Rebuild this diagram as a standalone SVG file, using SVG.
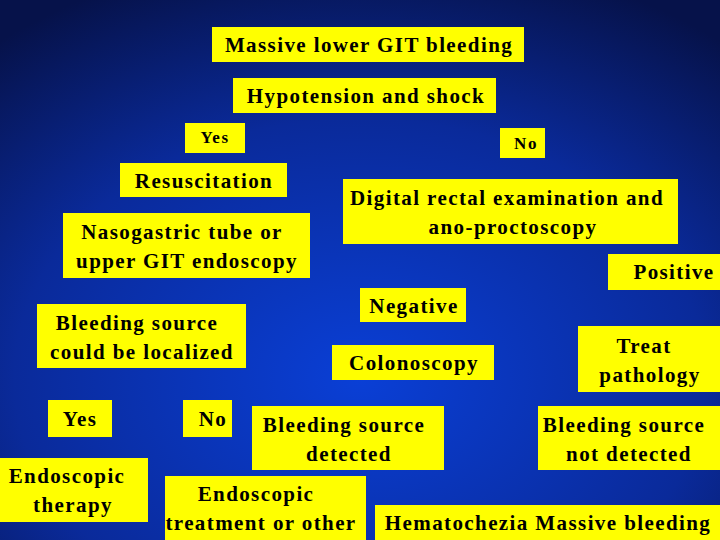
<svg xmlns="http://www.w3.org/2000/svg" width="720" height="540" viewBox="0 0 720 540">
<defs>
<radialGradient id="bg" cx="0.5" cy="0.7" r="0.8">
<stop offset="0" stop-color="#0a3fd6"/>
<stop offset="0.6" stop-color="#0a2a9a"/>
<stop offset="1" stop-color="#06124a"/>
</radialGradient>
</defs>
<style>
rect.b{fill:#ffff00}
text{font-family:"Liberation Serif",serif;font-size:21px;font-weight:bold;letter-spacing:1.4px;fill:#000;text-anchor:middle}
text.s{font-size:17px;letter-spacing:1.5px}
</style>
<rect width="720" height="540" fill="url(#bg)"/>
<g id="n1"><rect class="b" x="212" y="27" width="312" height="35"/><text x="369" y="52">Massive lower GIT bleeding</text></g>
<g id="n2"><rect class="b" x="233" y="78" width="263" height="35"/><text x="366" y="103">Hypotension and shock</text></g>
<g id="n3"><rect class="b" x="185" y="123" width="60" height="30"/><text class="s" x="215" y="143">Yes</text></g>
<g id="n4"><rect class="b" x="500" y="128" width="45" height="30"/><text class="s" x="526" y="149">No</text></g>
<g id="n5"><rect class="b" x="120" y="163" width="167" height="34"/><text x="204" y="188">Resuscitation</text></g>
<g id="n6"><rect class="b" x="343" y="179" width="335" height="65"/><text x="507" y="205">Digital rectal examination and</text><text x="513" y="234">ano-proctoscopy</text></g>
<g id="n7"><rect class="b" x="63" y="213" width="247" height="65"/><text x="182" y="239">Nasogastric tube or</text><text x="187" y="268">upper GIT endoscopy</text></g>
<g id="n8"><rect class="b" x="608" y="254" width="112" height="36"/><text x="674" y="279">Positive</text></g>
<g id="n9"><rect class="b" x="360" y="288" width="106" height="34"/><text x="414" y="313">Negative</text></g>
<g id="n10"><rect class="b" x="37" y="304" width="209" height="64"/><text x="137" y="330">Bleeding source</text><text x="142" y="359">could be localized</text></g>
<g id="n11"><rect class="b" x="332" y="345" width="162" height="35"/><text x="414" y="370">Colonoscopy</text></g>
<g id="n12"><rect class="b" x="578" y="326" width="142" height="66"/><text x="644" y="353">Treat</text><text x="650" y="382">pathology</text></g>
<g id="n13"><rect class="b" x="48" y="400" width="64" height="37"/><text x="80" y="426">Yes</text></g>
<g id="n14"><rect class="b" x="183" y="400" width="49" height="37"/><text x="213" y="426">No</text></g>
<g id="n15"><rect class="b" x="252" y="406" width="192" height="64"/><text x="344" y="432">Bleeding source</text><text x="349" y="461">detected</text></g>
<g id="n16"><rect class="b" x="538" y="406" width="182" height="64"/><text x="624" y="432">Bleeding source</text><text x="629" y="461">not detected</text></g>
<g id="n17"><rect class="b" x="0" y="458" width="148" height="64"/><text x="67" y="483">Endoscopic</text><text x="73" y="512">therapy</text></g>
<g id="n18"><rect class="b" x="165" y="476" width="201" height="64"/><text x="256" y="501">Endoscopic</text><text x="261" y="530">treatment or other</text></g>
<g id="n19"><rect class="b" x="375" y="505" width="345" height="35"/><text x="548" y="530">Hematochezia Massive bleeding</text></g>
<g id="connectors"></g>
</svg>
